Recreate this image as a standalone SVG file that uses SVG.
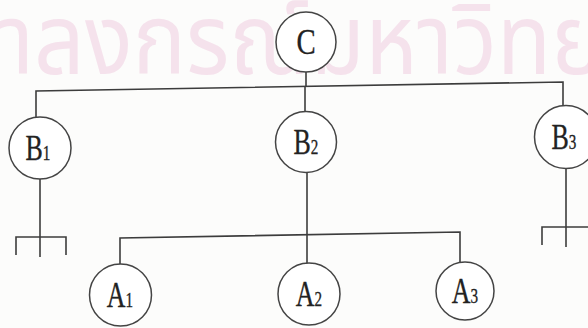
<svg xmlns="http://www.w3.org/2000/svg" width="588" height="328" viewBox="0 0 588 328">
  <style>
    .wm { font-family: "Noto Sans Thai", "Noto Sans", "DejaVu Sans", sans-serif; font-size: 98px; fill: #f5e2ec; }
    .edge { fill: none; stroke: #3c3c3c; stroke-width: 1.6; stroke-linecap: butt; stroke-linejoin: miter; }
    .node circle { fill: #ffffff; stroke: #444444; stroke-width: 1.5; }
    .lbl { font-family: "Liberation Serif", "Times New Roman", serif; font-size: 36px; fill: #222222; stroke: #222222; stroke-width: 0.35; text-anchor: middle; }
    .sub { font-size: 21px; }
  </style>

  <rect width="588" height="328" fill="#fcfcfb"/>

  <!-- background seal text -->
  <text class="wm" x="-2" y="74" textLength="606" lengthAdjust="spacingAndGlyphs">าลงกรณ์มหาวิทย</text>

  <!-- connectors -->
  <g id="connectors">
    <path class="edge" d="M306,72 L306,87"/>
    <path class="edge" d="M36,117 L36,91 L563,82 L563,105"/>
    <path class="edge" d="M305,86.5 L305,111"/>
    <path class="edge" d="M40,179 L40,257"/>
    <path class="edge" d="M16,255 L16,237 L66,237 L66,255"/>
    <path class="edge" d="M566,168 L566,247"/>
    <path class="edge" d="M542,245 L542,227 L590,227"/>
    <path class="edge" d="M307,173 L307,263"/>
    <path class="edge" d="M120,265 L120,238 L460,232 L460,262"/>
  </g>

  <g id="node-C" class="node">
    <circle cx="306" cy="42" r="30"/>
    <text class="lbl" transform="translate(306,54) scale(0.8,1)">C</text>
  </g>

  <g id="node-B1" class="node">
    <circle cx="40" cy="148" r="31"/>
    <text class="lbl" transform="translate(38,160) scale(0.72,1)">B<tspan class="sub">1</tspan></text>
  </g>

  <g id="node-B2" class="node">
    <circle cx="306" cy="142" r="30.5"/>
    <text class="lbl" transform="translate(306,154) scale(0.72,1)">B<tspan class="sub">2</tspan></text>
  </g>

  <g id="node-B3" class="node">
    <circle cx="566" cy="137" r="31.5"/>
    <text class="lbl" transform="translate(564,149) scale(0.72,1)">B<tspan class="sub">3</tspan></text>
  </g>

  <g id="node-A1" class="node">
    <circle cx="120.5" cy="295" r="31"/>
    <text class="lbl" transform="translate(120,307) scale(0.72,1)">A<tspan class="sub">1</tspan></text>
  </g>

  <g id="node-A2" class="node">
    <circle cx="309" cy="294" r="31"/>
    <text class="lbl" transform="translate(309,306) scale(0.72,1)">A<tspan class="sub">2</tspan></text>
  </g>

  <g id="node-A3" class="node">
    <circle cx="465" cy="291" r="29"/>
    <text class="lbl" transform="translate(465,303) scale(0.72,1)">A<tspan class="sub">3</tspan></text>
  </g>
</svg>
